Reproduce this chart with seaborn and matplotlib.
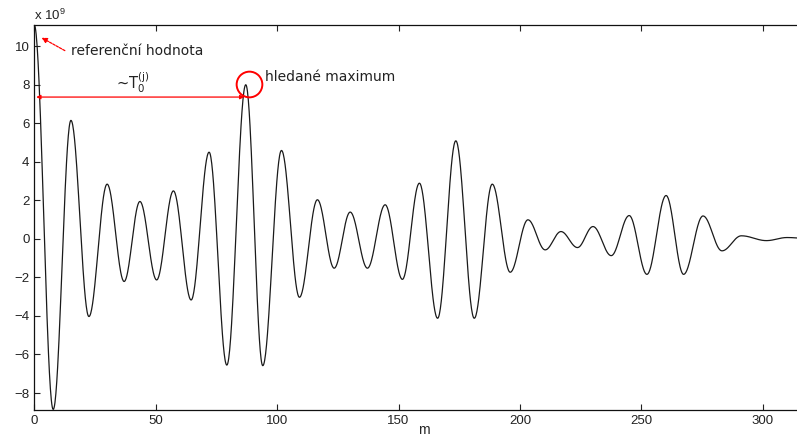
import numpy as np
import pandas as pd
import matplotlib
matplotlib.use("Agg")
import matplotlib.pyplot as plt
import seaborn as sns

# Turning points of the autocorrelation sequence (lag m, value in units of 1e9)
turn_m = [0, 7.8, 15.1, 22.5, 30.0, 37.0, 43.5, 50.4, 57.3, 64.6, 72.0, 79.3,
          87.1, 94.1, 101.8, 109.2, 116.6, 123.5, 130.1, 137.2, 144.5, 151.6,
          158.6, 166.1, 173.6, 181.2, 188.6, 196.0, 203.3, 210.4, 216.9, 223.7,
          230.1, 237.6, 245.0, 252.3, 260.2, 267.4, 275.4, 283.2, 291.2, 301.5,
          310.0, 321.0]
turn_v = [11.1, -8.85, 6.15, -4.03, 2.84, -2.21, 1.94, -2.13, 2.49, -3.17, 4.5,
          -6.55, 8.0, -6.58, 4.59, -3.03, 2.03, -1.52, 1.39, -1.52, 1.77, -2.1,
          2.89, -4.12, 5.09, -4.12, 2.84, -1.73, 0.99, -0.57, 0.38, -0.45, 0.64,
          -0.87, 1.21, -1.84, 2.25, -1.84, 1.19, -0.62, 0.16, -0.09, 0.07, 0.0]

# Annotated quantities
ref_value = 11.1          # reference value at m = 0
max_lag = 87.1            # lag of the sought maximum
max_value = 8.0
period_level = 7.36       # height of the period arrow

x_ticks = [0, 50, 100, 150, 200, 250, 300]
y_ticks = [-8, -6, -4, -2, 0, 2, 4, 6, 8, 10]

# Smooth path through the turning points (half-cosine between neighbours)
xs, ys = [], []
for i in range(len(turn_m) - 1):
    t = np.linspace(0, 1, 40, endpoint=False)
    xs.append(turn_m[i] + (turn_m[i + 1] - turn_m[i]) * t)
    ys.append(turn_v[i] + (turn_v[i + 1] - turn_v[i]) * (1 - np.cos(np.pi * t)) / 2)
xs.append([turn_m[-1]])
ys.append([turn_v[-1]])
df = pd.DataFrame({"m": np.concatenate(xs), "r": np.concatenate(ys)})

sns.set_theme(style="ticks")
plt.rcParams["font.family"] = ["DejaVu Sans"]
plt.rcParams["mathtext.default"] = "regular"

fig = plt.figure(figsize=(7.97, 4.37), dpi=100)
ax = fig.add_axes([0.043, 0.0618, 0.978, 0.881])

sns.lineplot(data=df, x="m", y="r", ax=ax, color="#1a1a1a", linewidth=0.9,
             estimator=None, sort=False)

ax.set_xlim(0, 321)
ax.set_ylim(-8.88, 11.1)
ax.set_xticks(x_ticks)
ax.set_yticks(y_ticks)
ax.tick_params(direction="in", length=4, width=0.8, labelsize=9.5,
               colors="#222222", top=True, right=False)
for lab in ax.get_xticklabels() + ax.get_yticklabels():
    lab.set_family("Liberation Sans")
for side in ["top", "bottom", "left"]:
    ax.spines[side].set_linewidth(0.9)
    ax.spines[side].set_color("#111111")
ax.spines["right"].set_visible(False)
ax.set_xlabel("m", fontsize=10, labelpad=-3, family="Liberation Sans")
ax.set_ylabel("")

# Scale factor above the y axis
ax.text(0.0, 1.005, r"x 10$^{9}$", transform=ax.transAxes, fontsize=9.5,
        ha="left", va="bottom", family="Liberation Sans", color="#222222")

# Reference value pointer
ax.annotate("", xy=(3.0, 10.44), xytext=(12.6, 9.77),
            arrowprops=dict(arrowstyle="-|>", color="red", lw=0.9,
                            linestyle=(0, (2, 1)), mutation_scale=8,
                            shrinkA=0, shrinkB=0))
ax.text(15.2, 9.75, "referenční hodnota", fontsize=10, color="#222222",
        ha="left", va="center")

# Period arrow between m = 0 and the sought maximum
ax.annotate("", xy=(0.8, period_level), xytext=(max_lag - 0.6, period_level),
            arrowprops=dict(arrowstyle="<|-|>", color="red", lw=0.9,
                            mutation_scale=6, shrinkA=0, shrinkB=0))
ax.text(40.5, 7.45, r"~T$_0^{(j)}$", fontsize=10.5, color="#222222",
        ha="center", va="bottom")

# Circle around the sought maximum
ax.plot([max_lag + 1.2], [max_value + 0.03], marker="o", markersize=18.5,
        markerfacecolor="none", markeredgecolor="red", markeredgewidth=1.4)
ax.text(95.0, 8.4, "hledané maximum", fontsize=10, color="#222222",
        ha="left", va="center")

fig.savefig("out.png", dpi=100)
